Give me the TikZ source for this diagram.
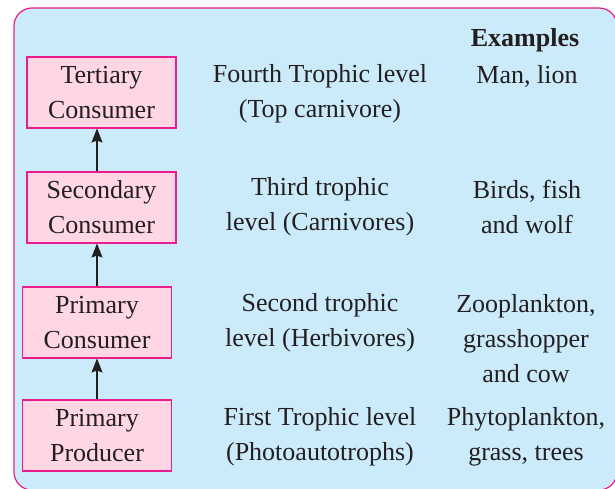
\documentclass[tikz,border=0pt]{standalone}
\usepackage{fontspec}
\setmainfont{Liberation Serif}
\usepackage{tikz}
\usetikzlibrary{arrows.meta,positioning}
\usepackage{xcolor}
\definecolor{panelblue}{RGB}{204,235,250}
\definecolor{framepink}{RGB}{233,30,140}
\definecolor{boxpink}{RGB}{255,214,228}
\definecolor{inkgrey}{RGB}{35,31,32}

\begin{document}
\begin{tikzpicture}[x=1pt, y=1pt,
  every node/.style={font=\fontsize{26}{35}\selectfont, text=inkgrey, align=center, inner sep=0pt},
  levelbox/.style={draw=framepink, line width=1.1pt, fill=boxpink, minimum width=149pt, minimum height=71pt},
  feed/.style={line width=1.2pt, draw=inkgrey, arrows={-Stealth[length=14pt,width=11pt,inset=2pt]}}]
\useasboundingbox (0,0) rectangle (615,488);
\begin{scope}
\clip (0,0) rectangle (615,488);
\draw[framepink, line width=1.2pt, fill=panelblue, rounded corners=18pt] (14,-2) rectangle (617,480);
\end{scope}
\node[levelbox] (tc) at (101.5,395.5) {Tertiary\\Consumer};
\node[levelbox] (sc) at (101.5,280.5) {Secondary\\Consumer};
\node[levelbox] (pc) at (97,165.5)    {Primary\\Consumer};
\node[levelbox] (pp) at (97,52.5)     {Primary\\Producer};
\node (lv4) at (320,394) {Fourth Trophic level\\(Top carnivore)};
\node (lv3) at (320,281) {Third trophic\\level (Carnivores)};
\node (lv2) at (320,165) {Second trophic\\level (Herbivores)};
\node (lv1) at (320,51)  {First Trophic level\\(Photoautotrophs)};
\node[font=\fontsize{26}{35}\selectfont\bfseries] (exh) at (525,448) {Examples};
\node (ex4) at (527,412) {Man, lion};
\node (ex3) at (527,281) {Birds, fish\\and wolf};
\node (ex2) at (526,149) {Zooplankton,\\grasshopper\\and cow};
\node (ex1) at (526,51)  {Phytoplankton,\\grass, trees};
\draw[feed] (pp.north) -- (pc.south);
\draw[feed] (pc.north) -- (pc.north |- sc.south);
\draw[feed] (sc.north -| pc.north) -- (tc.south -| pc.north);
\end{tikzpicture}
\end{document}
